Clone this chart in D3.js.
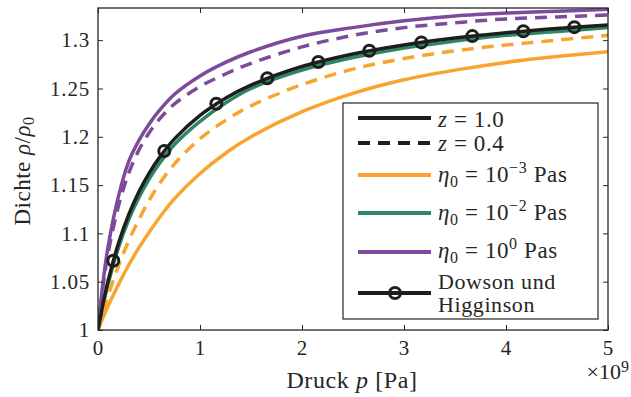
<!DOCTYPE html>
<html>
<head>
<meta charset="utf-8">
<script src="https://cdn.jsdelivr.net/npm/d3@7/dist/d3.min.js"></script>
<style>
  body { margin: 0; background: #fff; }
  svg text { font-family: "Liberation Serif", "Times New Roman", serif; fill: #262626; }
</style>
</head>
<body>
<svg id="chart" width="631" height="397"></svg>
<script>
// Druck in 1e9 Pa, Dichte rho/rho0
const pGrid = [0, 0.05, 0.1, 0.2, 0.3, 0.4, 0.5, 0.6, 0.75, 1, 1.25, 1.5, 2, 2.5, 3, 3.5, 4, 4.5, 5];

const orangeZ1 = [1, 1.013, 1.025, 1.047, 1.067, 1.085, 1.101, 1.116, 1.136, 1.162, 1.183, 1.200, 1.226, 1.245, 1.259, 1.269, 1.277, 1.283, 1.288];
const orangeZ04 = [1, 1.019, 1.036, 1.066, 1.092, 1.114, 1.134, 1.151, 1.172, 1.198, 1.217, 1.232, 1.254, 1.270, 1.281, 1.289, 1.295, 1.300, 1.305];
const greenZ1 = [1, 1.026, 1.048, 1.085, 1.114, 1.137, 1.156, 1.172, 1.192, 1.216, 1.235, 1.250, 1.269, 1.282, 1.292, 1.299, 1.305, 1.309, 1.313];
const purpleZ1 = [1, 1.050, 1.087, 1.138, 1.174, 1.196, 1.213, 1.227, 1.244, 1.263, 1.277, 1.288, 1.304, 1.313, 1.320, 1.325, 1.328, 1.330, 1.332];
const purpleZ04 = [1, 1.046, 1.080, 1.128, 1.162, 1.186, 1.204, 1.218, 1.234, 1.252, 1.265, 1.276, 1.293, 1.305, 1.313, 1.318, 1.322, 1.324, 1.326];
const dowson = [1, 1.0276, 1.0513, 1.0896, 1.1192, 1.1429, 1.1622, 1.1782, 1.1978, 1.2222, 1.2400, 1.2535, 1.2727, 1.2857, 1.2951, 1.3022, 1.3077, 1.3121, 1.3158];

const markerP = [0.15, 0.65, 1.16, 1.66, 2.16, 2.66, 3.17, 3.67, 4.17, 4.67];
const markerRho = [1.0717, 1.1853, 1.2342, 1.2606, 1.2774, 1.2890, 1.2977, 1.3042, 1.3093, 1.3135];

const xTicks = [0, 1, 2, 3, 4, 5];
const yTicks = [1, 1.05, 1.1, 1.15, 1.2, 1.25, 1.3];

const cOrange = "#f8a52f";
const cGreen = "#2e8760";
const cPurple = "#7d4b9b";
const cBlack = "#1e1e1e";

const margin = { left: 98, right: 23, top: 8, bottom: 67 };
const W = 631, H = 397;
const svg = d3.select("#chart");

const x = d3.scaleLinear().domain([0, 5]).range([margin.left, W - margin.right]);
const y = d3.scaleLinear().domain([1, 1.3333]).range([H - margin.bottom, margin.top]);

// Kurven
const series = [
  { vals: orangeZ1, color: cOrange, dash: null },
  { vals: greenZ1, color: cGreen, dash: null },
  { vals: purpleZ1, color: cPurple, dash: null },
  { vals: orangeZ04, color: cOrange, dash: "12,8" },
  { vals: purpleZ04, color: cPurple, dash: "12,8" },
  { vals: dowson, color: cBlack, dash: null }
];

const line = d3.line()
  .x(d => x(d[0]))
  .y(d => y(d[1]))
  .curve(d3.curveCatmullRom.alpha(0.5));

svg.append("defs").append("clipPath").attr("id", "clip")
  .append("rect")
  .attr("x", margin.left).attr("y", margin.top)
  .attr("width", x(5) - margin.left).attr("height", y(1) - margin.top);

const plot = svg.append("g").attr("clip-path", "url(#clip)");

plot.selectAll("path.curve")
  .data(series)
  .join("path")
  .attr("class", "curve")
  .attr("d", s => line(pGrid.map((p, i) => [p, s.vals[i]])))
  .attr("fill", "none")
  .attr("stroke", s => s.color)
  .attr("stroke-width", 3.5)
  .attr("stroke-dasharray", s => s.dash);

plot.selectAll("circle.mk")
  .data(markerP.map((p, i) => [p, markerRho[i]]))
  .join("circle")
  .attr("class", "mk")
  .attr("cx", d => x(d[0]))
  .attr("cy", d => y(d[1]))
  .attr("r", 5.5)
  .attr("fill", "none")
  .attr("stroke", cBlack)
  .attr("stroke-width", 3);

// Achsen
const tickFont = 21;
const labelFont = 24;

svg.append("g")
  .attr("transform", `translate(0,${y(1)})`)
  .call(d3.axisBottom(x).tickValues(xTicks).tickSize(-5).tickSizeOuter(0).tickPadding(10).tickFormat(d => d));
svg.append("g")
  .attr("transform", `translate(${margin.left},0)`)
  .call(d3.axisLeft(y).tickValues(yTicks).tickSize(-5).tickSizeOuter(0).tickPadding(8)
    .tickFormat(d => String(+d.toFixed(2))));

// Gegenueberliegende Achsen
svg.append("g")
  .attr("transform", `translate(0,${margin.top})`)
  .call(d3.axisTop(x).tickValues(xTicks).tickSize(-5).tickSizeOuter(0).tickFormat(""));
svg.append("g")
  .attr("transform", `translate(${x(5)},0)`)
  .call(d3.axisRight(y).tickValues(yTicks).tickSize(-5).tickSizeOuter(0).tickFormat(""));

svg.selectAll(".domain").remove();
svg.selectAll(".tick line").attr("stroke", "#262626").attr("stroke-width", 1);
svg.selectAll(".tick text")
  .attr("font-size", tickFont)
  .attr("letter-spacing", 0.8)
  .attr("fill", "#262626");

svg.append("rect")
  .attr("x", margin.left).attr("y", margin.top)
  .attr("width", x(5) - margin.left).attr("height", y(1) - margin.top)
  .attr("fill", "none").attr("stroke", "#262626").attr("stroke-width", 1.3);

// Achsenbeschriftungen
const xl = svg.append("text")
  .attr("x", 352).attr("y", 388)
  .attr("text-anchor", "middle")
  .attr("letter-spacing", 0.6)
  .attr("font-size", labelFont);
xl.append("tspan").text("Druck ");
xl.append("tspan").attr("font-style", "italic").text("p");
xl.append("tspan").text(" [Pa]");

const ex = svg.append("text")
  .attr("x", 629).attr("y", 379)
  .attr("text-anchor", "end")
  .attr("font-size", 22);
ex.append("tspan").text("×10");
ex.append("tspan").attr("font-size", 16).attr("dy", -7).text("9");

const yl = svg.append("text")
  .attr("transform", "translate(30,171) rotate(-90)")
  .attr("text-anchor", "middle")
  .attr("letter-spacing", 0.5)
  .attr("font-size", 23);
yl.append("tspan").text("Dichte ");
yl.append("tspan").attr("font-style", "italic").text("ρ");
yl.append("tspan").text("/");
yl.append("tspan").attr("font-style", "italic").text("ρ");
yl.append("tspan").attr("font-size", 16).attr("dy", 4).text("0");

// Legende
const legend = svg.append("g");
legend.append("rect")
  .attr("x", 343).attr("y", 103)
  .attr("width", 255).attr("height", 216)
  .attr("fill", "#fff").attr("stroke", "#262626").attr("stroke-width", 1.2);

const legendRows = [
  { y: 118, dy: 8.5, color: cBlack, dash: null, marker: false, label: "z1" },
  { y: 143, dy: 8, color: cBlack, dash: "12,8", marker: false, label: "z04" },
  { y: 175, dy: 7, color: cOrange, dash: null, marker: false, label: "-3" },
  { y: 213, dy: 7, color: cGreen, dash: null, marker: false, label: "-2" },
  { y: 252, dy: 6, color: cPurple, dash: null, marker: false, label: "0" },
  { y: 293, dy: 0, color: cBlack, dash: null, marker: true, label: "dh" }
];

const eq = "\u00a0=\u00a0";

legendRows.forEach(r => {
  legend.append("line")
    .attr("x1", 358).attr("x2", 431)
    .attr("y1", r.y).attr("y2", r.y)
    .attr("stroke", r.color).attr("stroke-width", 4)
    .attr("stroke-dasharray", r.dash);
  if (r.marker) {
    legend.append("circle")
      .attr("cx", 395).attr("cy", r.y).attr("r", 5.5)
      .attr("fill", "none").attr("stroke", cBlack).attr("stroke-width", 3);
  }
  const t = legend.append("text")
    .attr("x", 438).attr("y", r.y + r.dy)
    .attr("letter-spacing", 0.6)
    .attr("font-size", 23);
  if (r.label === "z1" || r.label === "z04") {
    t.append("tspan").attr("font-style", "italic").text("z");
    t.append("tspan").text(eq + (r.label === "z1" ? "1.0" : "0.4"));
  } else if (r.label === "dh") {
    t.attr("y", 289).attr("font-size", 22).text("Dowson und");
    legend.append("text").attr("x", 438).attr("y", 312)
      .attr("letter-spacing", 0.6).attr("font-size", 22).text("Higginson");
  } else {
    t.append("tspan").attr("font-style", "italic").text("η");
    t.append("tspan").attr("font-size", 16).attr("dy", 5).text("0");
    t.append("tspan").attr("dy", -5).text(eq + "10");
    t.append("tspan").attr("font-size", 16).attr("dy", -9)
      .text(r.label === "0" ? "0" : r.label.replace("-", "−"));
    t.append("tspan").attr("dy", 9).text(" Pas");
  }
});
</script>
</body>
</html>
